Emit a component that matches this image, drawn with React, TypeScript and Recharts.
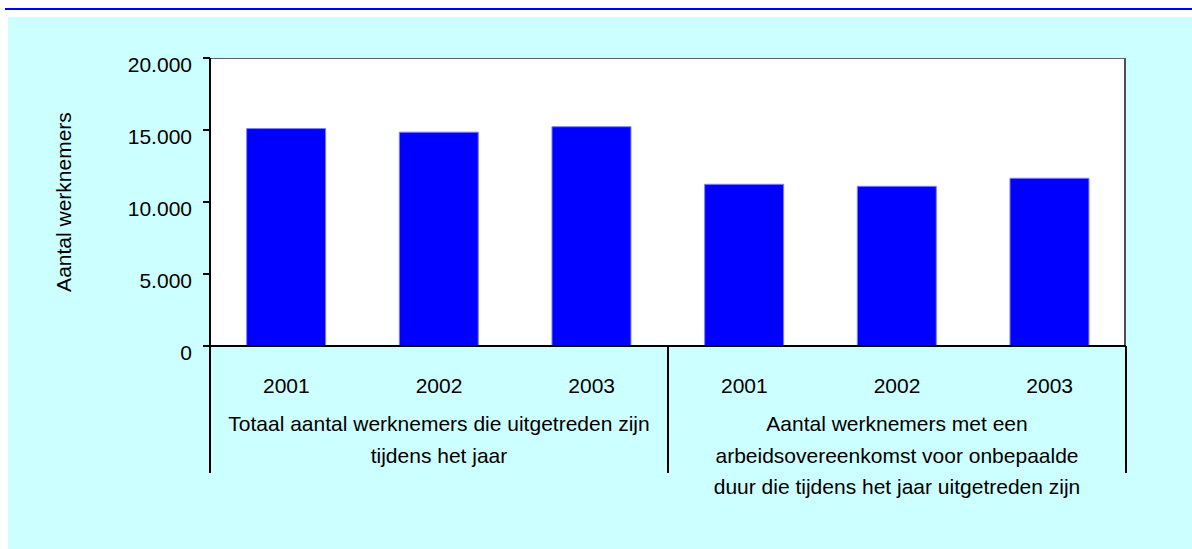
import { BarChart, Bar, XAxis, YAxis, Label } from "recharts";

// ---------------------------------------------------------------------------
// Data
// ---------------------------------------------------------------------------

const years = ["2001", "2002", "2003"];

const totalLeavers = [15100, 14850, 15230];
const indefiniteLeavers = [11230, 11090, 11650];

const groupLabels = [
  ["Totaal aantal werknemers die uitgetreden zijn", "tijdens het jaar"],
  [
    "Aantal werknemers met een",
    "arbeidsovereenkomst voor onbepaalde",
    "duur die tijdens het jaar uitgetreden zijn",
  ],
];

const yTicks = [0, 5000, 10000, 15000, 20000];
const yLabel = "Aantal werknemers";

const groupValues = [totalLeavers, indefiniteLeavers];

const data = groupValues.flatMap((values, g) =>
  years.map((year, i) => ({ year, group: g, value: values[i] }))
);

// ---------------------------------------------------------------------------
// Layout
// ---------------------------------------------------------------------------

const W = 1192;
const H = 549;
const PLOT_LEFT = 210;
const PLOT_TOP = 58;
const PLOT_RIGHT = 1126;
const PLOT_BOTTOM = 346;
const PLOT_W = PLOT_RIGHT - PLOT_LEFT;
const FONT = "'Liberation Sans', Arial, sans-serif";
const FONT_SIZE = 21;

const formatThousands = (v: number) =>
  v.toString().replace(/\B(?=(\d{3})+(?!\d))/g, ".");

function ValueTick({ x, y, payload }: any) {
  return (
    <text
      x={x}
      y={y + 14}
      textAnchor="end"
      fontFamily={FONT}
      fontSize={FONT_SIZE}
      fill="#000"
    >
      {formatThousands(payload.value)}
    </text>
  );
}

function CategoryTick({ x, y, index, payload }: any) {
  const band = PLOT_W / data.length;
  const item = data[index];
  const perGroup = years.length;
  const lines = groupLabels[item?.group ?? 0];
  return (
    <g>
      <text
        x={x}
        y={y + 47}
        textAnchor="middle"
        fontFamily={FONT}
        fontSize={FONT_SIZE}
        fill="#000"
      >
        {payload.value}
      </text>
      {index % perGroup === 0 && (
        <line
          x1={x - band / 2}
          x2={x - band / 2}
          y1={y}
          y2={y + 127}
          stroke="#000"
          strokeWidth={2}
        />
      )}
      {index === data.length - 1 && (
        <line
          x1={x + band / 2}
          x2={x + band / 2}
          y1={y}
          y2={y + 127}
          stroke="#000"
          strokeWidth={2}
        />
      )}
      {index % perGroup === Math.floor(perGroup / 2) &&
        lines.map((line, i) => (
          <text
            key={i}
            x={x}
            y={y + 85 + i * 31.5}
            textAnchor="middle"
            fontFamily={FONT}
            fontSize={FONT_SIZE}
            fill="#000"
          >
            {line}
          </text>
        ))}
    </g>
  );
}

export default function App() {
  return (
    <div style={{ position: "absolute", left: 0, top: 0, width: W, height: H, background: "#fff" }}>
      {/* top rule */}
      <div style={{ position: "absolute", left: 5, top: 8, width: W - 5, height: 2, background: "#0000ff" }} />
      {/* panel */}
      <div style={{ position: "absolute", left: 8, top: 17, right: 0, bottom: 0, background: "#ccffff" }} />
      {/* plot area */}
      <div
        style={{
          position: "absolute",
          left: PLOT_LEFT,
          top: PLOT_TOP,
          width: PLOT_W,
          height: PLOT_BOTTOM - PLOT_TOP,
          background: "#fff",
          borderTop: "1px solid #606060",
          borderRight: "2px solid #505050",
          boxSizing: "border-box",
        }}
      />
      <div style={{ position: "absolute", left: 0, top: 0 }}>
        <BarChart
          width={W}
          height={H}
          data={data}
          margin={{ top: PLOT_TOP, right: W - PLOT_RIGHT, bottom: 0, left: 0 }}
          barCategoryGap="24%"
        >
          <XAxis
            dataKey="year"
            height={H - PLOT_BOTTOM}
            interval={0}
            tickLine={false}
            tickSize={0}
            tickMargin={0}
            axisLine={{ stroke: "#000", strokeWidth: 2 }}
            tick={<CategoryTick />}
          />
          <YAxis
            width={PLOT_LEFT}
            domain={[0, 20000]}
            ticks={yTicks}
            interval={0}
            tickSize={7}
            tickMargin={11}
            tickLine={{ stroke: "#000", strokeWidth: 2 }}
            axisLine={{ stroke: "#000", strokeWidth: 2 }}
            tick={<ValueTick />}
          >
            <Label
              content={() => (
                <text
                  x={63}
                  y={202}
                  transform="rotate(-90 63 202)"
                  textAnchor="middle"
                  dominantBaseline="central"
                  fontFamily={FONT}
                  fontSize={FONT_SIZE}
                  fill="#000"
                >
                  {yLabel}
                </text>
              )}
            />
          </YAxis>
          <Bar
            dataKey="value"
            fill="#0000ff"
            stroke="#8080ff"
            strokeWidth={1}
            isAnimationActive={false}
          />
        </BarChart>
      </div>
    </div>
  );
}
